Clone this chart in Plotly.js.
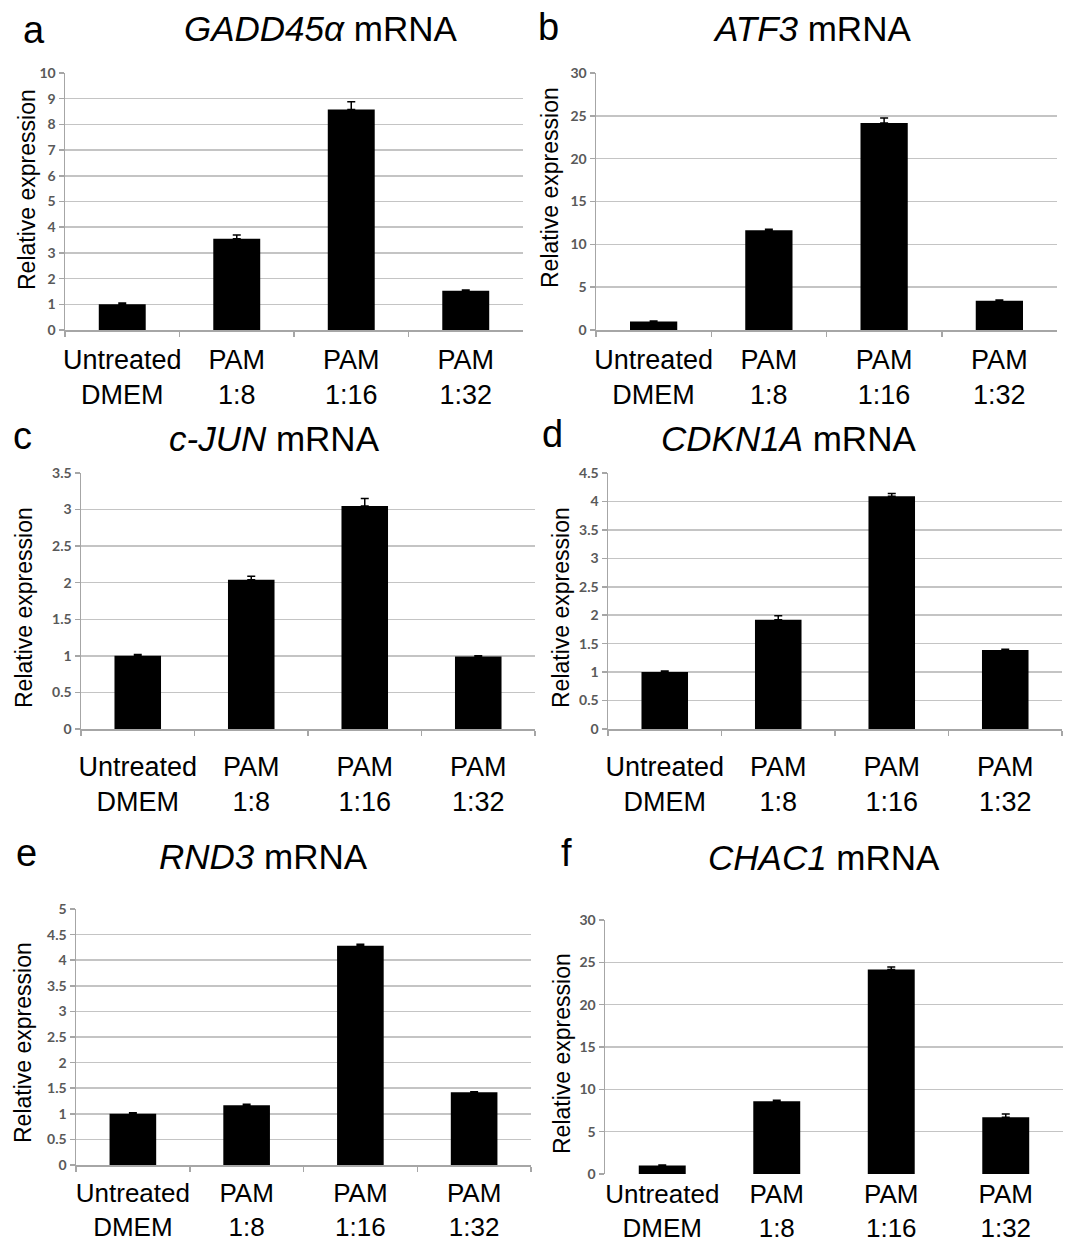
<!DOCTYPE html>
<html>
<head>
<meta charset="utf-8">
<script src="https://cdn.plot.ly/plotly-3.0.1.min.js"></script>
<style>html,body{margin:0;padding:0;background:#fff;}#chart{width:1070px;height:1245px;}</style>
</head>
<body>
<div id="chart"></div>
<script>
// ---- data ----
const categories = ["Untreated<br>DMEM", "PAM<br>1:8", "PAM<br>1:16", "PAM<br>1:32"];
const panelLetters = ["a", "b", "c", "d", "e", "f"];
const geneNames = ["GADD45α", "ATF3", "c-JUN", "CDKN1A", "RND3", "CHAC1"];
const yAxisLabel = "Relative expression";

const gadd45aValues = [1.0, 3.55, 8.58, 1.53];
const gadd45aErrors = [0.05, 0.15, 0.30, 0.03];
const atf3Values = [1.0, 11.65, 24.15, 3.4];
const atf3Errors = [0.05, 0.1, 0.6, 0.1];
const cjunValues = [1.0, 2.04, 3.05, 0.99];
const cjunErrors = [0.02, 0.05, 0.10, 0.01];
const cdkn1aValues = [1.0, 1.92, 4.09, 1.39];
const cdkn1aErrors = [0.02, 0.07, 0.05, 0.01];
const rnd3Values = [1.0, 1.165, 4.28, 1.42];
const rnd3Errors = [0.02, 0.02, 0.03, 0.01];
const chac1Values = [1.0, 8.6, 24.15, 6.7];
const chac1Errors = [0.05, 0.1, 0.3, 0.4];

const yMax = [10, 30, 3.5, 4.5, 5, 30];
const yStep = [1, 5, 0.5, 0.5, 0.5, 5];

// ---- layout geometry (pixels) ----
const W = 1070, H = 1245;
const X = p => p / W, Y = p => 1 - p / H;
const boxes = [
  {x0: 65, x1: 523, y0: 73, y1: 330, standoff: 5, fs: 27, title: [320, 29], letter: [34, 30], ytitle: [27, 190]},
  {x0: 596, x1: 1057, y0: 73, y1: 330, standoff: 5, fs: 27, title: [812, 29], letter: [548, 27], ytitle: [550, 187]},
  {x0: 81, x1: 535, y0: 473, y1: 729, standoff: 13, fs: 27, title: [275, 438], letter: [22, 436], ytitle: [24, 608]},
  {x0: 608, x1: 1062, y0: 473, y1: 729, standoff: 13, fs: 27, title: [788, 438], letter: [552, 434], ytitle: [561, 608]},
  {x0: 76, x1: 531, y0: 909, y1: 1165, standoff: 4, fs: 26, title: [263, 856], letter: [26, 853], ytitle: [23, 1043]},
  {x0: 605, x1: 1063, y0: 920, y1: 1174, standoff: 2, fs: 26, title: [824, 858], letter: [566, 853], ytitle: [562, 1054]}
];

const values = [gadd45aValues, atf3Values, cjunValues, cdkn1aValues, rnd3Values, chac1Values];
const errors = [gadd45aErrors, atf3Errors, cjunErrors, cdkn1aErrors, rnd3Errors, chac1Errors];

const traces = [];
const layout = {
  width: W, height: H, autosize: false,
  margin: {l: 0, r: 0, t: 0, b: 0},
  paper_bgcolor: "#ffffff", plot_bgcolor: "#ffffff",
  showlegend: false, bargap: 0.59,
  font: {family: "Liberation Sans, Arial, sans-serif", color: "#000"},
  annotations: [], shapes: []
};

const AX = "#a6a6a6";
values.forEach((vals, i) => {
  const n = i + 1;
  const xa = "x" + (n === 1 ? "" : n), ya = "y" + (n === 1 ? "" : n);
  traces.push({
    type: "bar", x: categories, y: vals, xaxis: xa, yaxis: ya,
    marker: {color: "#000000", line: {width: 0}},
    error_y: {type: "data", array: errors[i], arrayminus: vals.map(() => 0), symmetric: false,
              color: "#000000", thickness: 1.5, width: 4},
    hoverinfo: "skip"
  });
  const b = boxes[i];
  const xKey = "xaxis" + (n === 1 ? "" : n), yKey = "yaxis" + (n === 1 ? "" : n);
  const isF = i === 5;
  layout[xKey] = {
    domain: [X(b.x0), X(b.x1)], anchor: ya, type: "category",
    range: [-0.5, 3.5], showgrid: false, zeroline: false,
    showline: !isF, linecolor: AX, linewidth: 1.5,
    ticks: isF ? "" : "outside", tickson: "boundaries", ticklen: 5, tickcolor: AX, tickwidth: 1.5,
    tickangle: 0, automargin: false,
    ticklabelstandoff: b.standoff,
    tickfont: {family: "Liberation Sans, Arial, sans-serif", size: b.fs, color: "#000"},
    fixedrange: true
  };
  layout[yKey] = {
    domain: [Y(b.y1), Y(b.y0)], anchor: xa,
    range: [0, yMax[i]], dtick: yStep[i], tick0: 0,
    showgrid: true, gridcolor: "#c4c4c4", gridwidth: 1.5,
    zeroline: false, showline: true, linecolor: AX, linewidth: 1.5,
    ticks: "outside", ticklen: 5, tickcolor: AX, tickwidth: 1.5,
    automargin: false,
    tickfont: {family: "Lato, Carlito, sans-serif", size: 14, color: "#595959", weight: "bold"},
    fixedrange: true
  };
  // panel letter
  layout.annotations.push({
    xref: "paper", yref: "paper", x: X(b.letter[0]), y: Y(b.letter[1]),
    xanchor: "center", yanchor: "middle", showarrow: false,
    text: panelLetters[i], font: {size: 38, family: "Liberation Sans, Arial, sans-serif", color: "#000"}
  });
  // title
  layout.annotations.push({
    xref: "paper", yref: "paper", x: X(b.title[0]), y: Y(b.title[1]),
    xanchor: "center", yanchor: "middle", showarrow: false,
    text: "<i>" + geneNames[i] + "</i> mRNA",
    font: {size: 35, family: "Liberation Sans, Arial, sans-serif", color: "#000"}
  });
  // y-axis title
  layout.annotations.push({
    xref: "paper", yref: "paper", x: X(b.ytitle[0]), y: Y(b.ytitle[1]),
    xanchor: "center", yanchor: "middle", showarrow: false, textangle: -90,
    text: yAxisLabel,
    font: {size: 23, family: "Liberation Sans, Arial, sans-serif", color: "#000"}
  });
});

// panel f: broken baseline remnants
const fSegs = [[1.5, 1.72], [2.5, 2.66], [3.42, 3.5]];
fSegs.forEach(s => {
  layout.shapes.push({type: "line", xref: "x6", yref: "y6", x0: s[0], x1: s[1], y0: -0.35, y1: -0.35,
                      line: {color: "#8c8c8c", width: 1.5}});
});
[1.5, 2.5, 3.5].forEach(t => {
  layout.shapes.push({type: "line", xref: "x6", yref: "y6", x0: t, x1: t, y0: -0.35, y1: -0.9,
                      line: {color: "#8c8c8c", width: 1.5}});
});

Plotly.newPlot("chart", traces, layout, {staticPlot: true, displayModeBar: false});
</script>
</body>
</html>
